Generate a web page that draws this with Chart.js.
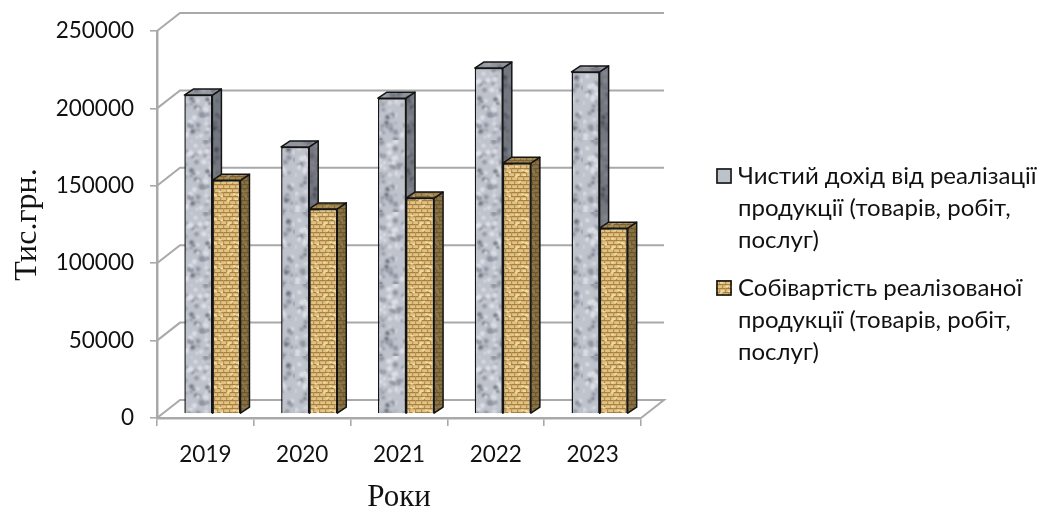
<!DOCTYPE html>
<html>
<head>
<meta charset="utf-8">
<style>html,body{margin:0;padding:0;background:#fff}#wrap{width:1052px;height:511px}</style>
<script src="https://cdn.jsdelivr.net/npm/chart.js@4"></script>
</head>
<body>
<div id="wrap"><canvas id="c" width="1052" height="511"></canvas></div>
<script>
const years = ['2019', '2020', '2021', '2022', '2023'];
const netIncome = [206000, 172500, 204000, 223500, 221000];
const costOfSales = [151000, 132500, 139500, 162000, 120000];
const netIncomeLabel = ['Чистий дохід від реалізації', 'продукції (товарів, робіт,', 'послуг)'];
const costOfSalesLabel = ['Собівартість реалізованої', 'продукції (товарів, робіт,', 'послуг)'];
const yMax = 250000;
const yStep = 50000;

const AXIS = '#a9a9a9';
const EDGE = '#141414';
const WALL_DX = 23, WALL_DY = -18;      // back wall offset of the box
const BAR_DX = 7, BAR_DY = -4;          // bars stand inside the box
const DEPTH_DX = 9, DEPTH_DY = -6;      // visible depth of each bar

// Small deterministic generator, used only for surface texture
function lcg(seed) { let s = seed; return () => (s = (s * 1103515245 + 12345) & 0x7fffffff) / 0x7fffffff; }

function granite() {
  const t = document.createElement('canvas'); t.width = t.height = 72;
  const g = t.getContext('2d'), r = lcg(17);
  g.fillStyle = '#bfc3cc'; g.fillRect(0, 0, 72, 72);
  g.filter = 'blur(1px)';
  for (let i = 0; i < 190; i++) {
    const v = r();
    g.fillStyle = v < .42 ? '#8f94a2' : v < .52 ? '#6a6f7a' : '#dfe1e8';
    g.beginPath(); g.arc(r() * 72, r() * 72, .8 + r() * 1.9, 0, 7); g.fill();
  }
  return t;
}
function weave() {
  const t = document.createElement('canvas'); t.width = t.height = 24;
  const g = t.getContext('2d'), r = lcg(5);
  g.fillStyle = '#e2c382'; g.fillRect(0, 0, 24, 24);
  g.filter = 'blur(.6px)';
  for (let y = 0; y < 24; y += 4) {
    g.fillStyle = '#a67e42'; g.fillRect(0, y, 24, 1.2);
    for (let x = (y % 8) ? 0 : 3; x < 24; x += 6) { g.fillStyle = '#b89053'; g.fillRect(x, y, 1.2, 4); }
  }
  for (let i = 0; i < 10; i++) { g.fillStyle = '#f3dfa8'; g.fillRect(r() * 24, r() * 24, 3, 1.5); }
  return t;
}
const ctx0 = document.getElementById('c').getContext('2d');
const grayFill = ctx0.createPattern(granite(), 'repeat');
const tanFill = ctx0.createPattern(weave(), 'repeat');

// Legend swatches: 16px squares with a dark frame
function swatch(fill) {
  const t = document.createElement('canvas'); t.width = t.height = 16;
  const g = t.getContext('2d');
  g.fillStyle = fill; g.fillRect(0, 0, 16, 16);
  g.strokeStyle = EDGE; g.lineWidth = 1.6; g.strokeRect(1, 1, 14, 14);
  return t;
}
const graySwatch = swatch('#bcc2ca');
const tanSwatch = swatch(tanFill);

function shade(ctx, path, fill, tint) {
  path(); ctx.fillStyle = fill; ctx.fill();
  path(); ctx.fillStyle = tint; ctx.fill();
  path(); ctx.stroke();
}

// Side and top faces of one series; the front face is the library's own bar
function drawFaces(ctx, meta, fill, sideTint, topTint) {
  ctx.save();
  ctx.translate(BAR_DX, BAR_DY);
  ctx.strokeStyle = EDGE; ctx.lineWidth = 1.5; ctx.lineJoin = 'round';
  for (const bar of meta.data) {
    const l = bar.x - bar.width / 2, r = bar.x + bar.width / 2, t = bar.y, b = bar.base;
    shade(ctx, () => {
      ctx.beginPath(); ctx.moveTo(r, t); ctx.lineTo(r + DEPTH_DX, t + DEPTH_DY);
      ctx.lineTo(r + DEPTH_DX, b + DEPTH_DY); ctx.lineTo(r, b); ctx.closePath();
    }, fill, sideTint);
    shade(ctx, () => {
      ctx.beginPath(); ctx.moveTo(l, t); ctx.lineTo(l + DEPTH_DX, t + DEPTH_DY);
      ctx.lineTo(r + DEPTH_DX, t + DEPTH_DY); ctx.lineTo(r, t); ctx.closePath();
    }, fill, topTint);
  }
  ctx.restore();
}

// Gridlines on the back wall and the slanted lines joining them to the axis,
// then the depth of the rear series, which the front series partly hides
const boxWalls = {
  id: 'boxWalls',
  beforeDatasetsDraw(chart) {
    const { ctx, scales: { x, y } } = chart;
    ctx.save();
    ctx.strokeStyle = AXIS; ctx.lineWidth = 2;
    for (let v = 0; v <= yMax; v += yStep) {
      const py = y.getPixelForValue(v);
      ctx.beginPath();
      ctx.moveTo(x.left, py);
      ctx.lineTo(x.left + WALL_DX, py + WALL_DY);
      ctx.lineTo(x.right + WALL_DX, py + WALL_DY);
      if (v === 0) ctx.lineTo(x.right, py);
      ctx.stroke();
    }
    ctx.restore();
    drawFaces(ctx, chart.getDatasetMeta(0), grayFill, 'rgba(40,44,52,.5)', 'rgba(40,44,52,.3)');
  }
};

const barDepth = {
  id: 'barDepth',
  beforeDatasetDraw(chart, args) {
    const { ctx } = chart;
    if (args.index === 1) drawFaces(ctx, args.meta, tanFill, 'rgba(60,50,20,.55)', 'rgba(70,55,20,.4)');
    ctx.save();
    ctx.translate(BAR_DX, BAR_DY);
  },
  afterDatasetDraw(chart) { chart.ctx.restore(); }
};

// Fixes the plot's right edge and places the legend block
const legendPlacement = {
  id: 'legendPlacement',
  beforeLayout(chart) {
    const legend = chart.legend;
    if (legend && !legend._fixedFit) {
      const fit = legend.fit;
      legend.fit = function () { fit.call(this); this.width = 411; };
      legend._fixedFit = true;
    }
  },
  afterLayout(chart) {
    const legend = chart.legend;
    legend.left = 706;
    legend.right = 1052;
    legend.top = 148;
  }
};

new Chart(ctx0, {
  type: 'bar',
  data: {
    labels: years,
    datasets: [
      { label: netIncomeLabel.join(' '), data: netIncome, backgroundColor: grayFill, borderColor: EDGE, borderWidth: 1.5, clip: false },
      { label: costOfSalesLabel.join(' '), data: costOfSales, backgroundColor: tanFill, borderColor: EDGE, borderWidth: 1.5, clip: false }
    ]
  },
  options: {
    responsive: false,
    animation: false,
    events: [],
    layout: { padding: { top: 31, left: 0, right: 0, bottom: 0 } },
    datasets: { bar: { categoryPercentage: 0.58, barPercentage: 1 } },
    scales: {
      x: {
        offset: true,
        afterFit(s) { s.height = 93; },
        grid: { offset: true, drawOnChartArea: false, drawTicks: true, tickLength: 8, color: AXIS, lineWidth: 1.6 },
        border: { color: AXIS, width: 2.5 },
        ticks: { color: '#111', padding: 15, font: { family: 'Lato', size: 22.5 }, maxRotation: 0 },
        title: { display: true, text: 'Роки', color: '#111', padding: { top: 14, bottom: -5 }, font: { family: 'Liberation Serif', size: 31 } }
      },
      y: {
        min: 0, max: yMax,
        afterFit(s) { s.width = 157; },
        grid: { drawOnChartArea: false, drawTicks: true, tickLength: 7, color: AXIS, lineWidth: 1.6 },
        border: { color: AXIS, width: 2.5 },
        ticks: { stepSize: yStep, color: '#111', padding: 16, font: { family: 'Lato', size: 22.5 }, callback: v => String(v) },
        title: { display: true, text: 'Тис.грн.', color: '#111', padding: { top: 8, bottom: 0 }, font: { family: 'Liberation Serif', size: 32 } }
      }
    },
    plugins: {
      title: { display: false },
      tooltip: { enabled: false },
      legend: {
        position: 'right',
        align: 'start',
        labels: {
          usePointStyle: true, pointStyleWidth: 4, boxHeight: 16, padding: 16, color: '#111',
          font: { family: 'Lato', size: 24, lineHeight: 1.333 },
          generateLabels(chart) {
            const items = Chart.defaults.plugins.legend.labels.generateLabels(chart);
            items[0].text = netIncomeLabel;
            items[1].text = costOfSalesLabel;
            items[0].pointStyle = graySwatch;
            items[1].pointStyle = tanSwatch;
            return items;
          }
        }
      }
    }
  },
  plugins: [boxWalls, barDepth, legendPlacement]
});
</script>
</body>
</html>
